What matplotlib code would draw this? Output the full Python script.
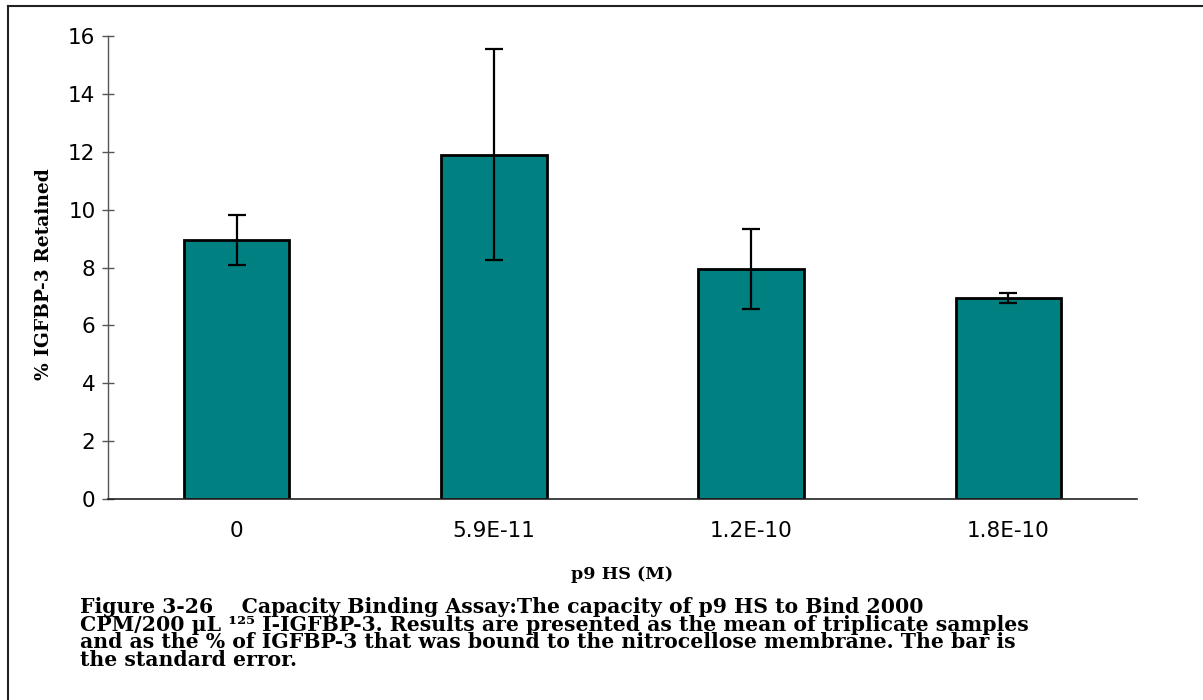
import matplotlib
matplotlib.use("Agg")
import matplotlib.pyplot as plt
from matplotlib.lines import Line2D

categories = ["0", "5.9E-11", "1.2E-10", "1.8E-10"]
retained = [8.95, 11.9, 7.95, 6.95]
std_err = [0.85, 3.65, 1.38, 0.17]
yticks = [0, 2, 4, 6, 8, 10, 12, 14, 16]

SERIF = "DejaVu Serif"

fig = plt.figure(figsize=(12.03, 7.0), dpi=100)
ax = fig.add_axes([108/1203, 1-499/700, (1137-108)/1203, (499-36)/700])

x = list(range(len(categories)))
ax.bar(x, retained, width=0.41, color="#008080", edgecolor="black", linewidth=2.0, zorder=2)
ax.errorbar(x, retained, yerr=std_err, fmt="none", ecolor="black", elinewidth=1.6,
            capsize=6.5, capthick=1.6, zorder=3)

ax.set_xlim(-0.5, len(categories) - 0.5)
ax.set_ylim(0, 16)
ax.set_yticks(yticks)
ax.set_yticklabels([str(t) for t in yticks], fontsize=15.5, family="DejaVu Sans")
ax.set_xticks(x)
ax.set_xticklabels(categories, fontsize=15.5, family="DejaVu Sans")
ax.tick_params(axis="x", length=0, pad=16)
ax.tick_params(axis="y", direction="inout", length=8, width=1, color="#555555", pad=5)
for s in ["top", "right"]:
    ax.spines[s].set_visible(False)
ax.spines["left"].set_color("#555555")
ax.spines["bottom"].set_color("#222222")
ax.spines["left"].set_linewidth(1.0)
ax.spines["bottom"].set_linewidth(1.2)

ax.set_ylabel("% IGFBP-3 Retained", fontsize=13.4, fontweight="bold", family=SERIF)
ax.yaxis.set_label_coords(-0.0535, 0.486)
ax.set_xlabel("p9 HS (M)", fontsize=12.6, fontweight="bold", family=SERIF, labelpad=18)

caption_lines = [
    "Figure 3-26    Capacity Binding Assay:The capacity of p9 HS to Bind 2000",
    "CPM/200 \u00b5L \u00b9\u00b2\u2075 I-IGFBP-3. Results are presented as the mean of triplicate samples",
    "and as the % of IGFBP-3 that was bound to the nitrocellose membrane. The bar is",
    "the standard error.",
]

fig.text(80/1203, 1 - 597/700, "\n".join(caption_lines), fontsize=14.7, fontweight="bold",
         family=[SERIF, "DejaVu Sans"], va="top", ha="left", linespacing=0.85)

# frame around figure
fig.add_artist(Line2D([8/1203, 1], [1-6/700, 1-6/700], transform=fig.transFigure, color="#222222", lw=1.5))
fig.add_artist(Line2D([8/1203, 8/1203], [0, 1-6/700], transform=fig.transFigure, color="#222222", lw=1.5))

fig.savefig("out.png", dpi=100)
